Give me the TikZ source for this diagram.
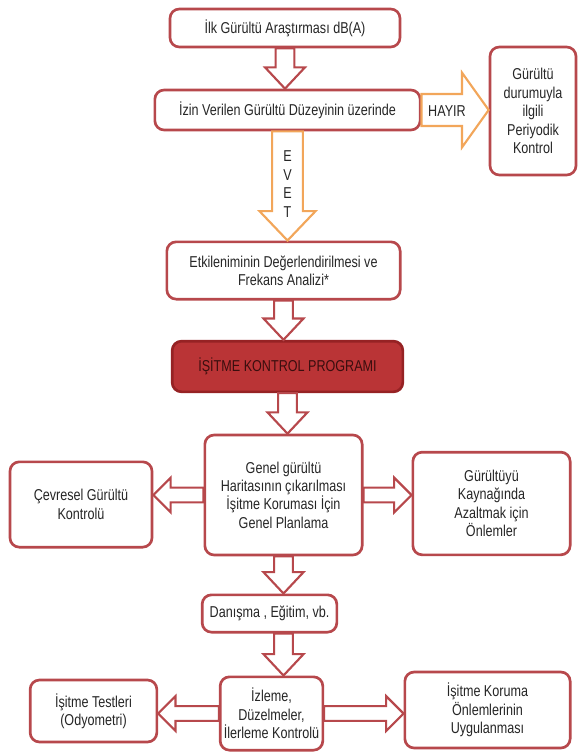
\documentclass[tikz,border=0pt]{standalone}
\usepackage{fontspec}
\setmainfont[FakeStretch=0.8]{Liberation Sans}
\usetikzlibrary{calc}

\definecolor{boxred}{HTML}{B7484C}
\definecolor{arroworange}{HTML}{F2A65A}
\definecolor{progfill}{HTML}{BA3436}
\definecolor{progline}{HTML}{962224}
\definecolor{progtext}{HTML}{3A0E0E}
\definecolor{textgray}{HTML}{262626}

\tikzset{
    box/.style={draw=boxred, line width=2pt, rounded corners=7pt,
        fill=white, align=center, text=textgray, inner sep=2pt,
        font=\fontsize{11.8}{13.8}\selectfont},
    redbox/.style={box, draw=progline, fill=progfill, text=progtext},
    blockline/.style={draw=boxred, line width=1.6pt, fill=white},
    label/.style={align=center, text=textgray,
        font=\fontsize{11.8}{13.8}\selectfont},
}

% hollow block arrow, downwards
\newcommand{\blockdown}[6][]{%
    \draw[blockline,#1] let \p1=(#2), \p2=(#3) in
        (\x1-#4,\y1) -- (\x1-#4,\y2+#6) -- (\x1-#5,\y2+#6) -- (\x1,\y2)
        -- (\x1+#5,\y2+#6) -- (\x1+#4,\y2+#6) -- (\x1+#4,\y1) -- cycle;
}
% hollow block arrow, left or right
\newcommand{\blockside}[6][]{%
    \draw[blockline,#1] let \p1=(#2), \p2=(#3),
        \n1={ifthenelse(\x2>\x1,\x2-#6,\x2+#6)} in
        (\x1,\y1-#4) -- ({\n1*1pt},\y1-#4) -- ({\n1*1pt},\y1-#5) -- (\x2,\y1)
        -- ({\n1*1pt},\y1+#5) -- ({\n1*1pt},\y1+#4) -- (\x1,\y1+#4) -- cycle;
}

\begin{document}
\begin{tikzpicture}[x=0.75pt,y=-0.75pt]
        \useasboundingbox (0,0) rectangle (578,752);

        % first survey
        \node [box,
            minimum width=172.5pt,
            minimum height=28.5pt,
        ] (ilk) at (285,28) {İlk Gürültü Araştırması dB(A)};

        % limit
        \node [box,
            minimum width=199pt,
            minimum height=30pt,
        ] (izin) at (287.5,110) {İzin Verilen Gürültü Düzeyinin üzerinde};

        % periodic control
        \node [box,
            minimum width=64.5pt,
            minimum height=96pt,
        ] (periyodik) at (533,111) {Gürültü\\durumuyla\\ilgili\\Periyodik\\Kontrol};

        % exposure
        \node [box,
            minimum width=175pt,
            minimum height=43pt,
        ] (etki) at (283.5,270.5) {Etkileniminin Değerlendirilmesi ve\\Frekans Analizi*};

        % programme
        \node [redbox,
            minimum width=173pt,
            minimum height=38pt,
        ] (program) at (287.5,366.5) {İŞİTME KONTROL PROGRAMI};

        % planning
        \node [box,
            minimum width=118pt,
            minimum height=90pt,
        ] (genel) at (283.5,495) {Genel gürültü\\Haritasının çıkarılması\\İşitme Koruması İçin\\Genel Planlama};

        \node [box,
            minimum width=106.5pt,
            minimum height=64pt,
        ] (cevre) at (81,504.5) {Çevresel Gürültü\\Kontrolü};

        \node [box,
            minimum width=118pt,
            minimum height=77pt,
        ] (kaynak) at (491.5,503.5) {Gürültüyü\\Kaynağında\\Azaltmak için\\Önlemler};

        % training
        \node [box,
            minimum width=101pt,
            minimum height=28pt,
        ] (danisma) at (269.5,613.5) {Danışma , Eğitim, vb.};

        % monitoring
        \node [box,
            minimum width=77pt,
            minimum height=55pt,
        ] (izleme) at (271.5,713.5) {İzleme,\\Düzelmeler,\\İlerleme Kontrolü};

        \node [box,
            minimum width=95pt,
            minimum height=46.5pt,
        ] (test) at (93.5,711) {İşitme Testleri\\(Odyometri)};

        \node [box,
            minimum width=124pt,
            minimum height=57pt,
        ] (uygulama) at (487.5,710) {İşitme Koruma\\Önlemlerinin\\Uygulanması};

        % arrows
        \blockdown{ilk.south}{izin.north}{7pt}{15pt}{16pt}
        \blockside[draw=arroworange]{izin.east}{periyodik.west}{12pt}{28pt}{20pt}
        \node [label] (hayir) at (447,111) {HAYIR};
        \blockdown[draw=arroworange]{izin.south}{etki.north}{11.5pt}{21pt}{22pt}
        \node [label] (evet) at (287.5,184) {E\\V\\E\\T};
        \blockdown{etki.south}{program.north}{7pt}{15pt}{16pt}
        \blockdown{program.south}{genel.north}{7pt}{15pt}{16pt}
        \blockside{genel.west}{cevre.east}{5.5pt}{13pt}{13pt}
        \blockside{genel.east}{kaynak.west}{5.5pt}{13pt}{13pt}
        \blockdown{genel.south}{danisma.north}{7pt}{15pt}{16pt}
        \blockdown{$(danisma.south)+(10.5pt,0)$}{izleme.north}{7pt}{15pt}{16pt}
        \blockside{izleme.west}{test.east}{5.5pt}{13pt}{13pt}
        \blockside{izleme.east}{uygulama.west}{5.5pt}{13pt}{13pt}
\end{tikzpicture}
\end{document}
